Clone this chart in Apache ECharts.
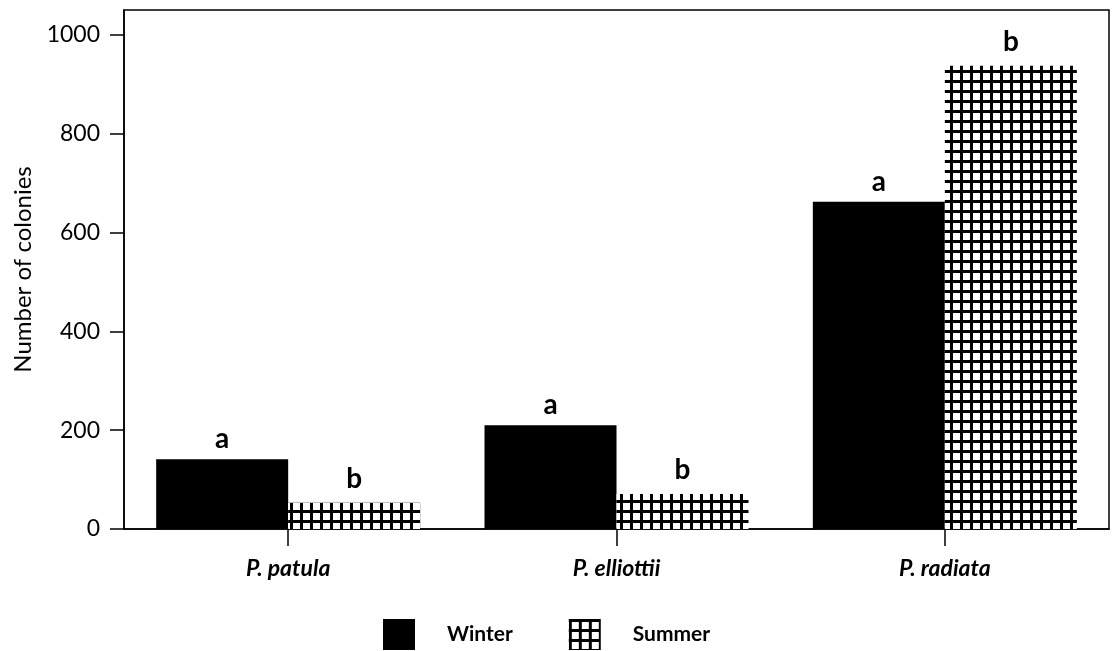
<!DOCTYPE html>
<html>
<head>
<meta charset="utf-8">
<script src="https://cdn.jsdelivr.net/npm/echarts@6/dist/echarts.min.js"></script>
<style>
html,body{margin:0;padding:0;background:#fff;}
#c{width:1112px;height:651px;}
</style>
</head>
<body>
<div id="c"></div>
<script>
var categories = ['P. patula', 'P. elliottii', 'P. radiata'];
var winterValues = [141, 210, 662];
var summerValues = [53, 71, 937];
var winterLetters = ['a', 'a', 'a'];
var summerLetters = ['b', 'b', 'b'];
var yTicks = [0, 200, 400, 600, 800, 1000];
var seriesNames = ['Winter', 'Summer'];

var FONT = 'Lato, "Open Sans", sans-serif';

function makeGrid() {
  var c = document.createElement('canvas');
  c.width = 10; c.height = 10;
  var g = c.getContext('2d');
  g.fillStyle = '#000';
  g.fillRect(0, 0, 10, 10);
  g.fillStyle = '#fff';
  g.fillRect(3, 3, 7, 7);
  return c;
}
var gridPattern = { image: makeGrid(), repeat: 'repeat' };

var chart = echarts.init(document.getElementById('c'), null, { renderer: 'canvas' });
chart.setOption({
  backgroundColor: '#fff',
  animation: false,
  grid: {
    left: 124, right: 3, top: 10, bottom: 122,
    show: true, borderColor: '#000', borderWidth: 1.5, backgroundColor: 'transparent'
  },
  legend: {
    left: 378, top: 614,
    icon: 'rect',
    itemWidth: 32, itemHeight: 31,
    itemGap: 56,
    data: seriesNames,
    textStyle: { fontFamily: FONT, fontSize: 21, fontWeight: 'bold', color: '#000', padding: [0, 0, 0, 27] }
  },
  xAxis: {
    type: 'category',
    data: categories,
    axisLine: { show: true, lineStyle: { color: '#000', width: 1.5 } },
    axisTick: { show: true, alignWithLabel: true, length: 17, lineStyle: { color: '#000', width: 1.5 } },
    axisLabel: { fontFamily: FONT, fontStyle: 'italic', fontWeight: 'bold', fontSize: 23, color: '#000', margin: 28 }
  },
  yAxis: {
    type: 'value',
    min: 0, max: 1050,
    splitLine: { show: false },
    name: 'Number of colonies',
    nameLocation: 'middle',
    nameGap: 88,
    nameTextStyle: { fontFamily: FONT, fontSize: 24, color: '#000' },
    axisLine: { show: true, lineStyle: { color: '#000', width: 1.5 } },
    axisTick: { show: true, length: 14, customValues: yTicks, lineStyle: { color: '#000', width: 1.5 } },
    axisLabel: {
      fontFamily: FONT, fontSize: 23, color: '#000', margin: 24, customValues: yTicks,
      formatter: function (v) { return String(v); }
    }
  },
  series: [
    {
      name: seriesNames[0], type: 'bar', data: winterValues,
      barWidth: 132, barGap: '0%',
      itemStyle: { color: '#000' },
      label: {
        show: true, position: 'top', distance: 6,
        formatter: function (p) { return winterLetters[p.dataIndex]; },
        fontFamily: FONT, fontSize: 28, fontWeight: 'bold', color: '#000'
      }
    },
    {
      name: seriesNames[1], type: 'bar', data: summerValues,
      barWidth: 132, barGap: '0%',
      itemStyle: { color: gridPattern },
      label: {
        show: true, position: 'top', distance: 10,
        formatter: function (p) { return summerLetters[p.dataIndex]; },
        fontFamily: FONT, fontSize: 28, fontWeight: 'bold', color: '#000'
      }
    }
  ]
});
</script>
</body>
</html>
